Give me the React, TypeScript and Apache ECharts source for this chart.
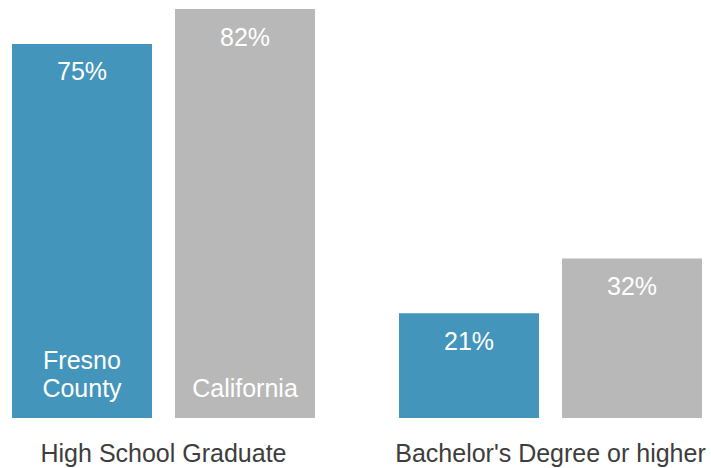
import React, { useEffect, useRef } from "react";
import * as echarts from "echarts";

const categories = ["High School Graduate", "Bachelor's Degree or higher"];
const fresnoValues = [75, 21];
const californiaValues = [82, 32];
const seriesNames = ["Fresno\nCounty", "California"];

const FONT = "'Liberation Sans', Arial, sans-serif";

export default function App() {
  const ref = useRef<HTMLDivElement>(null);
  useEffect(() => {
    document.body.style.margin = "0";
    const chart = echarts.init(ref.current!, null, { renderer: "svg" });
    const valueLabel = {
      show: true,
      position: "insideTop",
      distance: 15,
      color: "#ffffff",
      fontSize: 25,
      fontFamily: FONT,
      formatter: (p: any) => p.value + "%",
    };
    const namePoint = (name: string) => ({
      symbol: "circle",
      symbolSize: 0,
      label: {
        show: true,
        position: "top",
        distance: 16,
        color: "#ffffff",
        fontSize: 25,
        lineHeight: 28,
        fontFamily: FONT,
        formatter: name,
      },
      data: [{ coord: [categories[0], 0] }],
    });
    chart.setOption({
      animation: false,
      grid: {
        left: -30,
        width: 774,
        top: 9,
        bottom: 50,
        containLabel: false,
        outerBoundsMode: "none",
      },
      xAxis: {
        type: "category",
        data: categories,
        axisLine: { show: false },
        axisTick: { show: false },
        axisLabel: {
          interval: 0,
          hideOverlap: false,
          margin: 22,
          color: "#3d3d3d",
          fontSize: 25,
          fontFamily: FONT,
        },
      },
      yAxis: {
        type: "value",
        min: 0,
        max: 82,
        show: false,
        splitLine: { show: false },
      },
      series: [
        {
          type: "bar",
          name: "Fresno County",
          data: fresnoValues,
          barWidth: 140,
          barGap: "16.43%",
          itemStyle: { color: "#4495BB" },
          label: valueLabel,
          markPoint: namePoint(seriesNames[0]),
        },
        {
          type: "bar",
          name: "California",
          data: californiaValues,
          barWidth: 140,
          barGap: "16.43%",
          itemStyle: { color: "#B8B8B8" },
          label: valueLabel,
          markPoint: namePoint(seriesNames[1]),
        },
      ],
    });
    return () => chart.dispose();
  }, []);
  return <div ref={ref} style={{ width: 711, height: 468 }} />;
}
